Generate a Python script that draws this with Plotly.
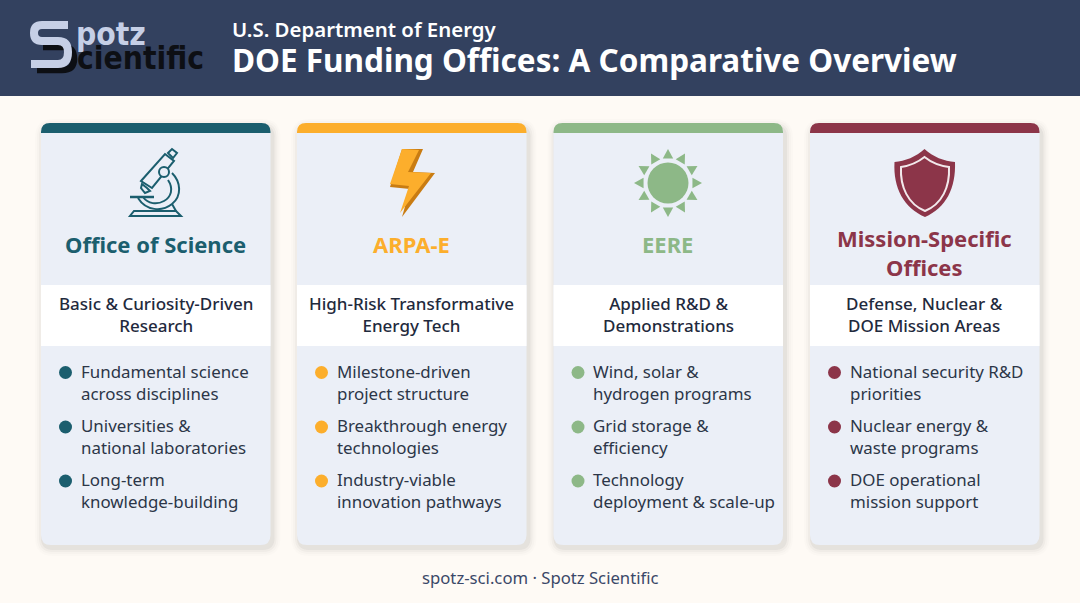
# DOE funding offices overview card graphic
import math
import plotly.graph_objects as go

# ----------------------------------------------------------------------------------------------------------------------
#  DATA
# ----------------------------------------------------------------------------------------------------------------------
header_small = "U.S. Department of Energy"
header_title = "DOE Funding Offices: A Comparative Overview"
footer_text = "spotz-sci.com · Spotz Scientific"

office_names = ["Office of Science", "ARPA-E", "EERE", "Mission-Specific<br>Offices"]
office_focus = ["Basic & Curiosity-Driven<br>Research",
                "High-Risk Transformative<br>Energy Tech",
                "Applied R&D &<br>Demonstrations",
                "Defense, Nuclear &<br>DOE Mission Areas"]
office_bullets = [["Fundamental science<br>across disciplines", "Universities &<br>national laboratories", "Long-term<br>knowledge-building"],
                  ["Milestone-driven<br>project structure", "Breakthrough energy<br>technologies", "Industry-viable<br>innovation pathways"],
                  ["Wind, solar &<br>hydrogen programs", "Grid storage &<br>efficiency", "Technology<br>deployment & scale-up"],
                  ["National security R&D<br>priorities", "Nuclear energy &<br>waste programs", "DOE operational<br>mission support"]]
office_colors = ["#1b5e6e", "#fcae2c", "#8db887", "#8c3549"]

# layout, in page pixels
W, H = 1080, 603
card_left = [41, 297, 553.5, 810]
card_w = 229.5
card_top, card_bottom = 123, 545
FONT = "Noto Sans"
BG = "#fefaf5"
NAVY = "#33415f"
CARD = "#ebeff7"
INK = "#1f2a3d"

shapes = []
annotations = []


def add_text(x, y, text, size, color, weight=400, anchor="center", family=FONT):
    annotations.append(dict(x=x, y=y, text=text, xref="x", yref="y", showarrow=False, xanchor=anchor, yanchor="middle",
                            align=anchor, borderpad=0, borderwidth=0,
                            font=dict(family=family, size=size, color=color, weight=weight)))


def add_path(path, fill=None, line=None, width=0):
    shapes.append(dict(type="path", path=path, xref="x", yref="y", layer="below",
                       fillcolor=fill if fill else "rgba(0,0,0,0)",
                       line=dict(color=line if line else "rgba(0,0,0,0)", width=width)))


def add_rect(x0, y0, x1, y1, fill):
    shapes.append(dict(type="rect", x0=x0, y0=y0, x1=x1, y1=y1, xref="x", yref="y", layer="below",
                       fillcolor=fill, line=dict(width=0)))


def round_rect(x0, y0, x1, y1, r, top=True, bottom=True):
    rt = r if top else 0
    rb = r if bottom else 0
    return (f"M {x0 + rt} {y0} L {x1 - rt} {y0} Q {x1} {y0} {x1} {y0 + rt} L {x1} {y1 - rb} Q {x1} {y1} {x1 - rb} {y1} "
            f"L {x0 + rb} {y1} Q {x0} {y1} {x0} {y1 - rb} L {x0} {y0 + rt} Q {x0} {y0} {x0 + rt} {y0} Z")


def poly(points):
    return "M " + " L ".join(f"{px} {py}" for px, py in points) + " Z"


# ----------------------------------------------------------------------------------------------------------------------
#  BACKGROUND AND HEADER
# ----------------------------------------------------------------------------------------------------------------------
add_rect(0, 0, W, H, BG)
add_rect(0, 0, W, 96, NAVY)

# logo
add_path("M 43 47 L 63 47 Q 74 47 74 59 Q 74 70 62 70 L 37 70", line="#0d0f14", width=6.5)
add_path("M 68 25 L 42 25 Q 34 25 34 33 Q 34 41 42 41 L 58 41 Q 68 41 68 52 Q 68 64 58 64 L 31 64", line="#c6cfe6", width=8)
add_text(76, 34, "potz", 31.5, "#c6cfe6", 700, "left", "DejaVu Sans Condensed")
add_text(77, 58, "cientific", 31.5, "#0d0f14", 700, "left", "DejaVu Sans Condensed")

add_text(232, 28.5, header_small, 20.4, "#ffffff", 600, "left")
add_text(232, 59.5, header_title, 31.5, "#ffffff", 700, "left")

# ----------------------------------------------------------------------------------------------------------------------
#  CARDS
# ----------------------------------------------------------------------------------------------------------------------
for i, left in enumerate(card_left):
    right = left + card_w
    color = office_colors[i]
    cx = left + card_w / 2

    # soft shadow
    for grow, alpha in [(8, 0.012), (6, 0.018), (4, 0.03), (2, 0.05)]:
        add_path(round_rect(left - grow + 2, card_top + 4 - grow, right + grow + 2, card_bottom + 3 + grow, 10 + grow),
                 fill=f"rgba(40,40,40,{alpha})")
    add_path(round_rect(left, card_top, right, card_bottom, 10), fill=CARD)
    add_path(round_rect(left, card_top, right, card_top + 10, 9, bottom=False), fill=color)
    add_rect(left, 285, right, 346, "#ffffff")

    # office name
    add_text(cx - 0.3, 252 if "<br>" in office_names[i] else 243.8, office_names[i], 22, color, 700)

    # focus band
    add_text(cx, 314.7, office_focus[i], 17, INK, 500)

    # bullets
    for bullet, y0 in zip(office_bullets[i], [372.5, 427, 481]):
        shapes.append(dict(type="circle", x0=left + 18, x1=left + 31, y0=y0 - 6.5, y1=y0 + 6.5, xref="x", yref="y",
                           layer="below", fillcolor=color, line=dict(width=0)))
        add_text(left + 39.8, y0 + 9.8, bullet, 16.9, "#2c3648", 400, "left")

# ----------------------------------------------------------------------------------------------------------------------
#  ICONS
# ----------------------------------------------------------------------------------------------------------------------
TEAL = office_colors[0]
add_path("M 172 173 C 181 182 182 196 172 204 C 162 212 146 211 138 198", line=TEAL, width=2)
add_path("M 168 180 C 174 189 171 197 164 201 C 157 205 148 204 143 197", line=TEAL, width=2)
add_path(poly([(141, 181), (165, 154), (174, 161), (152, 188)]), fill=CARD, line=TEAL, width=2)
add_path(poly([(168, 153), (172, 149), (177, 153), (173, 158)]), fill=CARD, line=TEAL, width=2)
add_path(poly([(142, 184), (147, 188), (150, 191), (145, 193), (141, 188)]), fill=CARD, line=TEAL, width=2)
shapes.append(dict(type="circle", x0=159, x1=169, y0=167, y1=177, xref="x", yref="y", layer="below",
                   fillcolor=CARD, line=dict(color=TEAL, width=2)))
add_path("M 130 197 L 154 197", line=TEAL, width=2.5)
add_path(poly([(134, 211), (176, 211), (181, 216), (130, 216)]), line=TEAL, width=2)
add_path("M 172 204 L 176 211", line=TEAL, width=2)

# lightning bolt
add_path(poly([(402, 149), (423, 149), (413, 172), (435, 173), (402, 217), (410, 189), (390, 187)]), fill="#c97c12")
add_path(poly([(402, 149), (419, 150), (408, 172), (431, 173), (400, 213), (409, 186), (390, 184)]), fill="#fcae2c")

# sun
GREEN = office_colors[2]
sun_x, sun_y = 668, 183
shapes.append(dict(type="circle", x0=sun_x - 20.5, x1=sun_x + 20.5, y0=sun_y - 20.5, y1=sun_y + 20.5, xref="x", yref="y",
                   layer="below", fillcolor=GREEN, line=dict(width=0)))
for k in range(12):
    a = math.radians(k * 30)
    b = math.radians(12)
    add_path(poly([(sun_x + 34 * math.sin(a), sun_y - 34 * math.cos(a)),
                   (sun_x + 25 * math.sin(a + b), sun_y - 25 * math.cos(a + b)),
                   (sun_x + 25 * math.sin(a - b), sun_y - 25 * math.cos(a - b))]), fill=GREEN)

# shield
MAROON = office_colors[3]
add_path("M 924.5 149 C 933 157 944 161 955 162 C 956 188 946 208 925 217 C 904 208 893 188 894.5 162 C 905 161 916 157 924.5 149 Z",
         fill=MAROON)
add_path("M 924.5 157 C 932 163 941 166 949 167 C 950 187 942 204 925 211 C 908 204 900 187 901 167 C 908 166 917 163 924.5 157 Z",
         line="#f2e9ec", width=2)

# ----------------------------------------------------------------------------------------------------------------------
#  FOOTER AND FIGURE
# ----------------------------------------------------------------------------------------------------------------------
add_text(540, 577.5, footer_text, 16.7, "#3b4868", 400)

fig = go.Figure()
fig.update_layout(width=W, height=H, margin=dict(l=0, r=0, t=0, b=0), paper_bgcolor=BG, plot_bgcolor=BG,
                  showlegend=False, shapes=shapes, annotations=annotations,
                  xaxis=dict(range=[0, W], visible=False, fixedrange=True),
                  yaxis=dict(range=[H, 0], visible=False, fixedrange=True))
fig.write_html("out.html", config=dict(displayModeBar=False),
               post_script="document.body.style.margin='0';")
